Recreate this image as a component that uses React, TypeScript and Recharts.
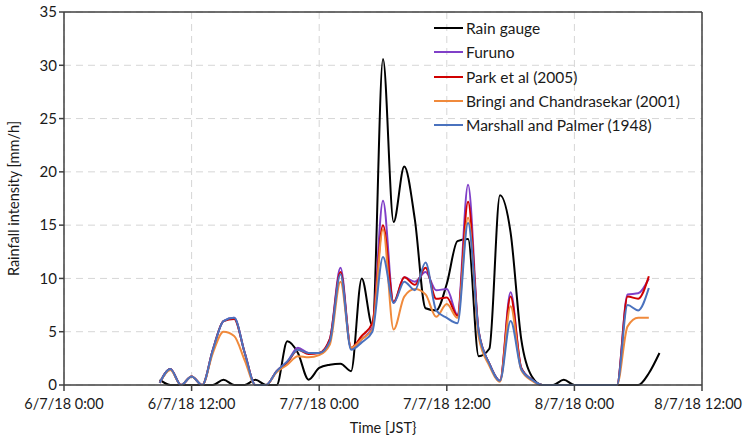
import { LineChart, Line, XAxis, YAxis, CartesianGrid, ReferenceLine } from "recharts";

const FONT = "Lato, 'Open Sans', sans-serif";

// hours since 6/7/18 0:00
const hours = [
  9, 10, 11, 12, 13, 14, 15, 16, 17, 18, 19, 20, 21, 22, 23, 24, 25, 26, 27, 28, 29, 30, 31, 32,
  33, 34, 35, 36, 37, 38, 39, 40, 41, 42, 43, 44, 45, 46, 47, 48, 49, 50, 51, 52, 53, 54, 55, 56,
];

const rainGauge = [
  0.5, 0, 0, 0, 0, 0, 0.5, 0, 0, 0.5, 0, 0, 4.1, 3.0, 0.5, 1.6, 1.9, 2.0, 1.3, 10.0, 5.6, 30.6, 15.3, 20.5,
  15.5, 7.2, 7.0, 9.5, 13.5, 13.7, 2.7, 3.4, 17.8, 14.3, 4.3, 0.8, 0, 0, 0.5, 0, 0, 0, 0, 0, 0, 0, 1.1, 3.0,
];

const furuno = [
  0.2, 1.5, 0, 0.8, 0, 3.3, 6.0, 6.3, 3.0, 0, 0, 1.3, 2.2, 3.5, 3.0, 3.0, 4.3, 11.0, 3.4, 4.3, 5.4, 17.3, 7.7, 10.1,
  9.7, 10.6, 8.9, 9.0, 6.6, 18.8, 5.0, 2.0, 0.4, 8.7, 1.6, 0.5, 0, 0, 0, 0, 0, 0, 0, 0, 8.5, 8.6, 10.0, null,
];

const park = [
  0.2, 1.5, 0, 0.8, 0, 3.3, 6.0, 6.2, 3.0, 0, 0, 1.3, 2.1, 3.3, 2.9, 3.0, 4.3, 10.6, 3.5, 4.6, 5.8, 15.0, 7.8, 10.1,
  9.4, 11.0, 8.1, 8.2, 6.5, 17.2, 5.0, 2.0, 0.4, 8.3, 1.6, 0.5, 0, 0, 0, 0, 0, 0, 0, 0, 8.3, 8.1, 10.2, null,
];

const bringi = [
  0.2, 1.4, 0, 0.8, 0, 3.0, 5.0, 4.6, 2.3, 0, 0, 1.2, 1.9, 2.7, 2.6, 2.8, 3.8, 9.7, 3.5, 4.3, 5.2, 14.6, 5.2, 8.3,
  9.0, 8.5, 6.4, 7.6, 6.3, 15.7, 4.5, 1.8, 0.3, 7.4, 1.4, 0.4, 0, 0, 0, 0, 0, 0, 0, 0, 5.5, 6.3, 6.3, null,
];

const marshall = [
  0.2, 1.5, 0, 0.8, 0, 3.3, 6.0, 6.3, 3.0, 0, 0, 1.3, 2.2, 3.3, 3.0, 3.0, 4.1, 10.4, 3.3, 4.0, 5.0, 12.0, 7.7, 9.7,
  8.9, 11.5, 7.0, 6.3, 5.8, 15.2, 5.0, 2.0, 0.4, 6.0, 1.5, 0.5, 0, 0, 0, 0, 0, 0, 0, 0, 7.5, 7.0, 9.1, null,
];

const xTicks = [0, 12, 24, 36, 48, 60];
const xTickLabels = ["6/7/18 0:00", "6/7/18 12:00", "7/7/18 0:00", "7/7/18 12:00", "8/7/18 0:00", "8/7/18 12:00"];
const yTicks = [0, 5, 10, 15, 20, 25, 30, 35];

const series = [
  { key: "rain", name: "Rain gauge", color: "#000000" },
  { key: "furuno", name: "Furuno", color: "#8040C8" },
  { key: "park", name: "Park et al (2005)", color: "#D00000" },
  { key: "bringi", name: "Bringi and Chandrasekar (2001)", color: "#F08A3C" },
  { key: "marshall", name: "Marshall and Palmer (1948)", color: "#4A72BE" },
];

const data = hours.map((h, i) => ({
  h,
  rain: rainGauge[i],
  furuno: furuno[i],
  park: park[i],
  bringi: bringi[i],
  marshall: marshall[i],
}));

// eslint-disable-next-line @typescript-eslint/no-explicit-any
function TimeTick(props: any) {
  const { x, y, payload } = props;
  const label = xTickLabels[xTicks.indexOf(payload.value)];
  // last label sits right at the chart edge, keep it inside
  const last = payload.value === xTicks[xTicks.length - 1];
  return (
    <text
      x={last ? 742 : x}
      y={y + 16}
      textAnchor={last ? "end" : "middle"}
      fontSize={14.5}
      fill="#1a1a1a"
      fontFamily={FONT}
    >
      {label}
    </text>
  );
}

// legend drawn as an overlay so it doesn't eat plot space
function LegendBox() {
  return (
    <div
      style={{
        position: "absolute",
        left: 434,
        top: 16,
        fontFamily: FONT,
        fontSize: 15.5,
        color: "#1a1a1a",
      }}
    >
      {series.map((s) => (
        <div key={s.key} style={{ display: "flex", alignItems: "center", height: 24.3 }}>
          <div style={{ width: 29, height: 2, background: s.color, marginRight: 3 }} />
          <span>{s.name}</span>
        </div>
      ))}
    </div>
  );
}

export default function App() {
  return (
    <div style={{ position: "absolute", left: 0, top: 0, width: 744, height: 439, background: "#fff" }}>
      <LineChart width={744} height={439} data={data} margin={{ top: 12, right: 42, left: 0, bottom: 0 }}>
        <CartesianGrid stroke="#d6d6d6" strokeDasharray="7 5" />
        <XAxis
          dataKey="h"
          type="number"
          domain={[0, 60]}
          ticks={xTicks}
          height={54}
          stroke="#404040"
          strokeWidth={1.5}
          tickSize={6}
          tick={<TimeTick />}
          label={{ value: "Time [JST}", position: "insideBottom", offset: 6, fontSize: 14.5, fill: "#1a1a1a", fontFamily: FONT }}
        />
        <YAxis
          type="number"
          domain={[0, 35]}
          ticks={yTicks}
          width={64}
          stroke="#404040"
          strokeWidth={1.5}
          tickSize={5}
          tick={{ fontSize: 15, fill: "#1a1a1a", fontFamily: FONT }}
          label={{
            value: "Rainfall intensity [mm/h]",
            angle: -90,
            position: "insideLeft",
            offset: 14,
            style: { textAnchor: "middle" },
            fontSize: 14.5,
            fill: "#1a1a1a",
            fontFamily: FONT,
          }}
        />
        <ReferenceLine y={35} stroke="#404040" strokeWidth={1.5} />
        <ReferenceLine x={60} stroke="#404040" strokeWidth={1.5} />
        {series.map((s) => (
          <Line
            key={s.key}
            type="monotone"
            dataKey={s.key}
            name={s.name}
            stroke={s.color}
            strokeWidth={2}
            dot={false}
            activeDot={false}
            isAnimationActive={false}
          />
        ))}
      </LineChart>
      <LegendBox />
    </div>
  );
}
